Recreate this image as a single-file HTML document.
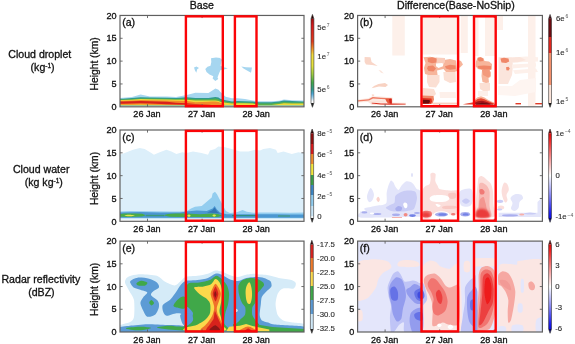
<!DOCTYPE html><html><head><meta charset="utf-8"><title>Figure</title><style>
html,body{margin:0;padding:0;background:#fff}svg{display:block}
text{font-family:"Liberation Sans", Arial, sans-serif;fill:#111;stroke:#111;stroke-width:0.3px}.t{font-size:9.1px}.l{font-size:10.6px}.c{font-size:7.8px;fill:#2a2a2a;stroke:#2a2a2a;stroke-width:0.12px}
</style></head><body>
<svg width="575" height="344" viewBox="0 0 575 344">
<rect width="575" height="344" fill="#fff"/>
<defs><filter id="b1" x="-20%" y="-20%" width="140%" height="140%"><feGaussianBlur stdDeviation="0.5"/></filter><filter id="b2" x="-20%" y="-20%" width="140%" height="140%"><feGaussianBlur stdDeviation="1.0"/></filter><filter id="b3" x="-30%" y="-30%" width="160%" height="160%"><feGaussianBlur stdDeviation="2"/></filter></defs>
<text x="201.8" y="8.7" text-anchor="middle" class="l">Base</text>
<text x="455.9" y="8.7" text-anchor="middle" class="l">Difference(Base-NoShip)</text>
<text x="39.8" y="58.4" text-anchor="middle" class="l">Cloud droplet</text>
<text x="42.6" y="71.4" text-anchor="middle" class="l">(kg<tspan dy="-3.4" font-size="6.5">-1</tspan><tspan dy="3.4">)</tspan></text>
<text x="41.2" y="172.6" text-anchor="middle" class="l">Cloud water</text>
<text x="43.8" y="185.9" text-anchor="middle" class="l">(kg kg<tspan dy="-3.4" font-size="6.5">-1</tspan><tspan dy="3.4">)</tspan></text>
<text x="40.9" y="282.6" text-anchor="middle" class="l">Radar reflectivity</text>
<text x="41.4" y="295.6" text-anchor="middle" class="l">(dBZ)</text>
<text transform="translate(97.8 63.9) rotate(-90)" text-anchor="middle" class="l" style="font-size:10.3px">Height (km)</text>
<text transform="translate(97.8 178.5) rotate(-90)" text-anchor="middle" class="l" style="font-size:10.3px">Height (km)</text>
<text transform="translate(97.8 289.4) rotate(-90)" text-anchor="middle" class="l" style="font-size:10.3px">Height (km)</text>
<clipPath id="cpa"><rect x="120.0" y="15.45" width="184.0" height="91.35"/></clipPath><g clip-path="url(#cpa)"><path d="M120.0 97.9L123.0 97.8L132.0 96.9L140.6 94.5L150.0 96.5L167.0 96.5L176.0 97.0L186.8 95.1L195.4 92.7L208.4 92.9L212.0 90.8L215.4 88.4L218.5 89.8L220.2 91.8L225.6 96.7L232.0 98.3L237.8 98.3L245.0 99.1L252.8 100.6L259.0 101.2L271.5 101.2L279.0 100.7L284.0 99.6L292.0 100.2L302.8 100.6L305.0 100.6L305.0 106.0L302.8 106.0L292.0 106.0L284.0 106.0L279.0 106.0L271.5 106.0L259.0 106.0L252.8 106.0L245.0 106.0L237.8 106.0L232.0 106.0L225.6 106.0L220.2 106.0L218.5 106.0L215.4 106.0L212.0 106.0L208.4 106.0L195.4 106.0L186.8 106.0L176.0 106.0L167.0 106.0L150.0 106.0L140.6 106.0L132.0 106.0L123.0 106.0L120.0 106.0Z" fill="#a6d6f0" /><path d="M120.0 98.7L123.0 98.7L132.0 98.1L140.6 97.3L150.0 97.5L167.0 97.7L176.0 98.1L186.8 97.3L195.4 97.9L208.4 97.9L212.0 97.5L215.4 97.1L218.5 97.6L220.2 98.7L225.6 100.3L232.0 101.4L237.8 101.0L245.0 101.3L252.8 101.6L259.0 102.2L271.5 102.2L279.0 101.5L284.0 100.4L292.0 101.0L302.8 101.4L305.0 101.4L305.0 105.3L302.8 105.3L292.0 105.3L284.0 105.3L279.0 105.3L271.5 105.3L259.0 105.3L252.8 105.3L245.0 105.3L237.8 105.3L232.0 105.3L225.6 105.3L220.2 105.3L218.5 105.3L215.4 105.3L212.0 105.3L208.4 105.3L195.4 105.3L186.8 105.3L176.0 105.3L167.0 105.3L150.0 105.3L140.6 105.3L132.0 105.3L123.0 105.3L120.0 105.3Z" fill="#2f9a8c" /><path d="M120.0 99.6L123.0 99.6L132.0 99.2L140.6 98.4L150.0 98.6L167.0 98.8L176.0 99.1L186.8 98.4L195.4 99.3L208.4 99.3L212.0 99.0L215.4 98.6L218.5 99.2L220.2 100.2L225.6 101.6L232.0 102.6L237.8 102.2L245.0 102.4L252.8 102.7L259.0 103.6L271.5 103.6L279.0 102.8L284.0 101.9L292.0 102.4L302.8 102.6L305.0 102.6L305.0 105.3L302.8 105.3L292.0 105.3L284.0 105.3L279.0 105.3L271.5 105.3L259.0 105.3L252.8 105.3L245.0 105.3L237.8 105.3L232.0 105.3L225.6 105.3L220.2 105.3L218.5 105.3L215.4 105.3L212.0 105.3L208.4 105.3L195.4 105.3L186.8 105.3L176.0 105.3L167.0 105.3L150.0 105.3L140.6 105.3L132.0 105.3L123.0 105.3L120.0 105.3Z" fill="#5bb04a" /><path d="M120.0 100.1L123.0 100.1L132.0 99.8L140.6 99.1L150.0 99.3L167.0 99.4L176.0 99.8L186.8 99.7L195.4 100.6L208.4 100.4L212.0 100.4L215.4 100.4L218.5 101.0L220.2 101.7L225.6 102.7L232.0 103.6L237.8 103.2L245.0 103.3L252.8 103.4L259.0 105.0L271.5 105.0L279.0 103.9L284.0 103.2L292.0 103.4L302.8 103.4L305.0 103.4L305.0 105.3L302.8 105.3L292.0 105.3L284.0 105.3L279.0 105.3L271.5 105.3L259.0 105.3L252.8 105.3L245.0 105.3L237.8 105.3L232.0 105.3L225.6 105.3L220.2 105.3L218.5 105.3L215.4 105.3L212.0 105.3L208.4 105.3L195.4 105.3L186.8 105.3L176.0 105.3L167.0 105.3L150.0 105.3L140.6 105.3L132.0 105.3L123.0 105.3L120.0 105.3Z" fill="#f1d93a" /><path d="M120.0 100.7L123.0 100.7L132.0 100.5L140.6 100.0L150.0 100.2L167.0 100.4L176.0 100.8L186.8 101.1L195.4 102.2L208.4 101.7L212.0 101.5L215.4 101.4L218.5 102.0L220.2 102.7L225.6 105.3L232.0 105.3L237.8 105.3L245.0 105.3L252.8 105.3L259.0 105.3L271.5 105.3L279.0 105.3L284.0 105.3L292.0 105.3L302.8 105.3L305.0 105.3L305.0 105.3L302.8 105.3L292.0 105.3L284.0 105.3L279.0 105.3L271.5 105.3L259.0 105.3L252.8 105.3L245.0 105.3L237.8 105.3L232.0 105.3L225.6 105.3L220.2 105.1L218.5 105.1L215.4 105.1L212.0 105.1L208.4 105.1L195.4 105.1L186.8 105.1L176.0 105.1L167.0 105.0L150.0 104.7L140.6 104.5L132.0 104.7L123.0 104.8L120.0 104.8Z" fill="#f28c28" /><path d="M120.0 101.4L123.0 101.4L132.0 101.3L140.6 101.1L150.0 101.3L167.0 101.7L176.0 102.7L186.8 103.3L195.4 104.1L208.4 104.8L212.0 104.9L215.4 104.9L218.5 104.9L220.2 104.9L225.6 105.3L232.0 105.3L237.8 105.3L245.0 105.3L252.8 105.3L259.0 105.3L271.5 105.3L279.0 105.3L284.0 105.3L292.0 105.3L302.8 105.3L305.0 105.3L305.0 105.3L302.8 105.3L292.0 105.3L284.0 105.3L279.0 105.3L271.5 105.3L259.0 105.3L252.8 105.3L245.0 105.3L237.8 105.3L232.0 105.3L225.6 105.3L220.2 104.9L218.5 104.9L215.4 104.9L212.0 104.9L208.4 104.9L195.4 104.8L186.8 104.8L176.0 104.4L167.0 104.2L150.0 103.6L140.6 103.3L132.0 103.6L123.0 103.8L120.0 103.8Z" fill="#d8201c" /><path d="M194.0 67.5L196.5 66.4L199.0 68.0L197.2 69.3L196.3 72.7L195.0 70.5Z" fill="#a6d6f0" /><path d="M211.0 58.2L216.0 57.6L220.3 58.0L221.0 59.5L223.0 59.0L221.5 61.0L220.6 65.7L223.5 67.2L227.8 68.2L224.0 69.5L220.5 70.0L219.0 73.5L217.5 77.5L218.3 79.0L215.3 80.9L212.6 78.6L213.3 76.3L209.5 74.5L206.5 72.0L205.3 69.0L207.5 66.7L210.5 65.8L211.3 62.0Z" fill="#a6d6f0" /><path d="M241.3 66.6L246.0 67.2L252.0 67.6L251.0 72.7L247.0 70.5L243.5 68.4Z" fill="#a6d6f0" /></g><rect x="120.0" y="15.45" width="184.0" height="91.35" fill="none" stroke="#606060" stroke-width="1.2"/><path d="M120.0 83.96h2.6M304.0 83.96h-2.6M120.0 61.12h2.6M304.0 61.12h-2.6M120.0 38.29h2.6M304.0 38.29h-2.6M147.50 106.8v-2.6M147.50 15.45v2.6M202.10 106.8v-2.6M202.10 15.45v2.6M256.70 106.8v-2.6M256.70 15.45v2.6" stroke="#606060" stroke-width="0.9" fill="none"/><text x="116.60" y="110.00" text-anchor="end" class="t">0</text><text x="116.60" y="87.16" text-anchor="end" class="t">5</text><text x="116.60" y="64.33" text-anchor="end" class="t">10</text><text x="116.60" y="41.49" text-anchor="end" class="t">15</text><text x="116.60" y="18.65" text-anchor="end" class="t">20</text><text x="147.00" y="117.40" text-anchor="middle" class="t">26 Jan</text><text x="201.60" y="117.40" text-anchor="middle" class="t">27 Jan</text><text x="256.20" y="117.40" text-anchor="middle" class="t">28 Jan</text><text x="122.20" y="26.35" class="l">(a)</text><rect x="185.9" y="16.35" width="36.9" height="89.85" fill="none" stroke="#fb0407" stroke-width="2.4"/><rect x="234.9" y="16.35" width="21.6" height="89.85" fill="none" stroke="#fb0407" stroke-width="2.4"/>
<clipPath id="cpb"><rect x="357.6" y="15.45" width="184.8" height="91.35"/></clipPath><g clip-path="url(#cpb)"><g filter="url(#b1)"><rect x="392.3" y="16.0" width="12.5" height="39.5" fill="#fdf0ea" /><rect x="421.0" y="16.0" width="37.0" height="38.5" fill="#fdf0ea" /><rect x="460.7" y="16.0" width="7.1" height="37.0" fill="#fdf0ea" /><rect x="474.0" y="16.0" width="4.5" height="40.0" fill="#fdf0ea" /><rect x="485.0" y="16.0" width="11.0" height="40.0" fill="#fdf0ea" /><rect x="497.0" y="16.0" width="6.0" height="14.0" fill="#fdf0ea" /><rect x="528.0" y="16.0" width="7.5" height="90.0" fill="#fdf0ea" /><path d="M364.6 57.0L370.5 57.2L371.6 62.0L377.7 65.9L372.0 65.0L366.0 64.5L364.6 62.0Z" fill="#f9d6c8" /><path d="M378.5 70.0L381.0 70.4L383.8 73.5L381.0 72.8Z" fill="#fbe6dd" /><path d="M378.5 84.0L385.0 83.0L388.0 85.0L385.5 87.0L379.0 86.6L371.6 88.2L374.0 86.0Z" fill="#f8d2c2" /><path d="M371.7 94.2L374.3 94.4L374.0 96.3L372.0 96.2Z" fill="#fbdcd0" /><path d="M358.0 99.4L368.0 98.2L372.5 96.2L381.0 96.6L392.5 97.4L393.0 102.6L406.0 102.8L406.0 105.2L372.0 105.0L368.0 102.0L358.0 102.6Z" fill="#fce9e1" /><path d="M358.0 100.3L368.6 99.2L372.7 97.1L381.0 97.7L391.5 98.3L391.5 99.6L381.0 99.1L373.0 98.6L369.0 100.4L358.0 101.4Z" fill="#ee7a62" /><path d="M385.3 98.9L391.5 98.6L391.8 103.8L388.0 103.6L386.5 101.5Z" fill="#e65a3a" /><path d="M389.0 99.0L391.7 98.8L391.8 103.8L389.8 103.6Z" fill="#d0201a" /><path d="M371.7 102.5L381.0 103.4L391.5 103.6L405.5 103.7L405.5 104.6L391.5 104.7L381.0 104.6L371.7 103.6Z" fill="#de3322" /><path d="M364.0 101.5L372.0 101.2L384.0 100.8L384.0 102.0L372.0 102.4Z" fill="#fbe3d9" /><path d="M423.5 57.2L430.0 56.7L437.6 58.0L438.0 63.0L436.0 66.0L443.0 66.0L444.0 60.0L450.0 59.0L456.0 60.5L457.0 71.0L452.0 73.3L446.0 72.0L443.5 69.0L437.0 70.5L437.6 75.2L430.0 75.5L425.0 74.0L424.0 68.0L425.5 63.0Z" fill="#f7b59b" /><path d="M436.0 57.6L445.0 58.0L445.0 62.5L442.0 64.0L436.0 63.8Z" fill="#f9cdbc" /><path d="M427.5 58.2L432.0 57.3L436.7 58.5L436.5 62.5L432.0 63.2L428.0 62.0Z" fill="#f08767" /><path d="M428.0 66.0L433.0 65.5L436.0 68.5L433.5 71.4L428.5 71.0L427.0 68.5Z" fill="#f08767" /><path d="M445.0 66.2L450.0 64.8L455.6 65.5L455.6 69.0L450.0 69.7L446.0 68.6Z" fill="#f08767" /><path d="M436.0 63.5L442.5 63.0L443.0 66.3L438.5 68.0L436.0 66.2Z" fill="#ffffff" /><path d="M427.0 75.0L439.5 75.0L439.5 82.0L436.0 87.5L429.0 87.0L427.0 82.0Z" fill="#fbdfd3" /><path d="M443.3 72.0L455.6 72.0L456.0 82.0L450.0 83.0L444.0 80.0Z" fill="#fbdfd3" /><path d="M439.5 92.0L455.6 92.0L456.0 98.0L440.0 98.0Z" fill="#fdf0ea" /><path d="M423.0 88.0L434.0 89.0L436.0 94.0L433.0 97.0L423.0 97.0Z" fill="#fbdfd3" /><path d="M422.3 95.5L433.5 96.0L434.0 99.5L432.5 103.8L422.3 104.0Z" fill="#f08767" /><path d="M422.3 98.0L431.5 98.4L432.0 101.5L431.0 103.8L422.3 104.0Z" fill="#e0301e" /><path d="M423.0 99.7L429.5 99.9L430.0 102.0L428.5 103.6L423.0 103.6Z" fill="#6b0a10" /><path d="M433.0 102.6L457.0 102.6L457.0 104.5L433.0 104.5Z" fill="#f9cfc0" /><path d="M458.0 60.0L461.0 61.0L463.0 64.5L460.0 67.5L458.0 68.0Z" fill="#f7b59b" /><path d="M477.7 57.5L480.5 57.0L483.5 58.3L484.5 61.0L489.0 61.5L492.0 64.0L491.8 69.5L489.5 70.0L491.0 72.5L490.5 77.0L488.5 78.0L489.0 82.5L486.0 83.0L482.5 82.0L481.5 76.0L482.0 70.0L478.0 69.0L475.7 66.5L476.0 61.5Z" fill="#f7b59b" /><path d="M477.8 58.0L480.5 57.3L483.2 58.5L483.4 61.0L479.5 61.4L477.7 60.0Z" fill="#f08767" /><path d="M477.5 66.0L484.0 65.4L491.0 66.0L491.0 69.4L484.0 69.8L478.5 68.6Z" fill="#f08767" /><path d="M482.0 70.0L489.5 70.0L490.5 76.0L488.0 77.5L483.0 75.0Z" fill="#f39a7c" /><path d="M479.5 83.0L490.0 83.0L490.0 90.5L484.0 91.5L480.0 89.0Z" fill="#fbdfd3" /><path d="M478.0 91.0L488.0 91.0L488.0 96.0L478.0 96.0Z" fill="#fdf0ea" /><path d="M474.0 100.0L477.6 97.2L481.0 96.3L484.5 97.6L488.0 99.8L491.5 101.5L494.2 102.4L495.5 104.6L474.0 104.6Z" fill="#f7b59b" /><path d="M474.0 101.6L477.6 99.0L481.0 98.2L484.5 99.2L488.0 101.0L491.5 102.6L494.0 103.4L494.5 104.6L474.0 104.6Z" fill="#e6452f" /><path d="M474.0 103.0L478.0 101.2L482.0 100.8L486.0 101.8L490.0 103.2L493.0 104.0L493.0 104.6L474.0 104.6Z" fill="#a51219" /><path d="M476.0 104.0L482.0 102.8L488.0 103.6L491.0 104.6L476.0 104.6Z" fill="#6b0a10" /><path d="M462.8 104.2L468.0 103.2L472.4 102.6L475.0 101.5L475.0 104.4L466.0 104.6Z" fill="#e6452f" /><path d="M498.5 57.3L512.0 57.3L513.0 66.0L512.0 75.0L508.0 84.0L498.5 84.0Z" fill="#fbe5dc" /><path d="M512.0 57.6L526.0 56.6L538.0 57.2L538.0 61.6L512.0 62.6Z" fill="#fdf0ea" /><path d="M512.0 64.6L536.0 63.3L536.0 66.6L512.0 68.4Z" fill="#fdf0ea" /><path d="M513.0 70.2L536.0 68.5L538.0 72.0L515.0 74.0Z" fill="#fdf0ea" /><path d="M512.0 57.6L520.0 57.0L526.0 60.0L518.0 62.2L512.0 62.6Z" fill="#fbe5dc" /><path d="M500.4 58.6L504.0 57.8L508.5 58.4L509.2 61.5L506.0 63.0L501.5 62.6Z" fill="#f08767" /><path d="M506.0 67.2L508.5 66.7L509.8 68.6L508.6 70.5L506.4 70.2Z" fill="#f08767" /><path d="M498.0 86.0L512.0 86.0L520.0 80.0L536.0 78.0L536.0 92.0L515.0 96.0L498.0 95.0Z" fill="#fef5f1" /><path d="M515.5 103.0L521.0 103.0L521.0 104.4L515.5 104.4Z" fill="#e03a28" /><path d="M535.3 103.0L542.0 103.0L542.0 104.4L535.3 104.4Z" fill="#e03a28" /></g></g><rect x="357.6" y="15.45" width="184.8" height="91.35" fill="none" stroke="#606060" stroke-width="1.2"/><path d="M357.6 83.96h2.6M542.4000000000001 83.96h-2.6M357.6 61.12h2.6M542.4000000000001 61.12h-2.6M357.6 38.29h2.6M542.4000000000001 38.29h-2.6M385.10 106.8v-2.6M385.10 15.45v2.6M439.70 106.8v-2.6M439.70 15.45v2.6M494.30 106.8v-2.6M494.30 15.45v2.6" stroke="#606060" stroke-width="0.9" fill="none"/><text x="354.20" y="110.00" text-anchor="end" class="t">0</text><text x="354.20" y="87.16" text-anchor="end" class="t">5</text><text x="354.20" y="64.33" text-anchor="end" class="t">10</text><text x="354.20" y="41.49" text-anchor="end" class="t">15</text><text x="354.20" y="18.65" text-anchor="end" class="t">20</text><text x="384.60" y="117.40" text-anchor="middle" class="t">26 Jan</text><text x="439.20" y="117.40" text-anchor="middle" class="t">27 Jan</text><text x="493.80" y="117.40" text-anchor="middle" class="t">28 Jan</text><text x="359.80" y="26.35" class="l">(b)</text><rect x="421.5" y="16.35" width="36.6" height="89.85" fill="none" stroke="#fb0407" stroke-width="2.4"/><rect x="474.0" y="16.35" width="21.7" height="89.85" fill="none" stroke="#fb0407" stroke-width="2.4"/>
<clipPath id="cpc"><rect x="120.0" y="130.0" width="184.0" height="91.30000000000001"/></clipPath><g clip-path="url(#cpc)"><g filter="url(#b1)"><path d="M119.0 154.9L119.7 154.7L124.7 153.0L133.0 149.7L139.7 148.0L144.7 148.9L151.4 153.0L153.9 154.7L159.7 152.2L166.4 149.7L171.4 151.4L176.4 153.9L182.3 152.2L186.4 153.0L193.0 151.4L201.5 153.0L208.0 154.7L210.0 150.5L215.0 148.9L218.3 146.4L225.0 147.2L231.7 148.9L240.0 151.4L248.4 151.4L255.0 149.7L260.0 150.5L263.4 148.9L270.0 148.0L276.0 149.7L277.6 153.0L283.5 151.4L291.8 153.9L298.5 152.2L302.7 153.0L305.0 153.0L305.0 219.6L119.0 219.6Z" fill="#dceffa" /><path d="M119.0 211.4L130.0 210.9L150.0 211.3L170.0 211.4L180.0 211.6L186.7 211.2L191.0 208.5L195.0 206.7L201.7 205.9L206.7 201.7L211.7 197.5L212.6 193.4L215.0 191.7L217.0 194.2L219.2 198.4L222.6 205.0L225.9 210.9L230.0 213.0L236.8 212.2L242.6 210.0L246.8 211.7L253.5 212.8L260.0 212.4L276.0 212.4L290.0 212.8L305.0 212.4L305.0 218.2L119.0 218.2Z" fill="#93cdef" /><path d="M119.0 212.4L140.0 212.0L160.0 212.6L180.0 212.6L186.7 211.4L196.7 210.4L206.7 210.9L212.6 208.4L214.7 205.9L216.7 209.2L220.0 212.6L226.7 214.2L235.0 214.2L260.0 214.3L276.0 214.2L290.0 214.6L305.0 214.5L305.0 217.8L119.0 217.8Z" fill="#4b97d1" /><path d="M207.0 212.6L212.0 210.5L214.7 207.6L217.0 211.5L220.0 213.5Z" fill="#3274b5" /><path d="M119.0 214.3L124.0 213.6L135.0 213.4L142.0 213.8L146.0 215.2L142.0 216.6L130.0 216.9L119.0 216.8Z" fill="#4bab47" /><path d="M146.0 214.8L164.0 214.8L164.0 216.2L146.0 216.2Z" fill="#3d9a78" /><path d="M163.0 215.3L168.0 214.0L175.0 213.6L186.0 213.6L200.0 214.2L212.0 213.4L218.0 214.0L222.0 215.6L218.0 216.9L200.0 217.0L186.0 217.0L170.0 216.8Z" fill="#4bab47" /><path d="M232.0 215.0L256.0 215.0L256.0 216.2L232.0 216.2Z" fill="#2f8f80" /><path d="M278.0 215.6L290.0 215.4L290.0 216.4L278.0 216.6Z" fill="#3f9a70" /><path d="M124.5 215.4C124.5 215.2 127.3 214.7 129.0 214.7C130.7 214.7 134.7 215.2 134.7 215.4C134.7 215.7 130.7 216.2 129.0 216.2C127.3 216.2 124.5 215.7 124.5 215.4Z" fill="#e2e352" /><path d="M187.3 215.7C187.3 215.3 188.4 214.6 189.0 214.6C189.6 214.6 190.6 215.3 190.6 215.7C190.6 216.1 189.6 216.9 189.0 216.9C188.4 216.9 187.3 216.1 187.3 215.7Z" fill="#e2e352" /><path d="M212.4 215.6C212.4 215.2 213.6 214.6 214.2 214.6C214.8 214.6 216.0 215.2 216.0 215.6C216.0 215.9 214.8 216.7 214.2 216.7C213.6 216.7 212.4 215.9 212.4 215.6Z" fill="#e2e352" /></g></g><rect x="120.0" y="130.0" width="184.0" height="91.30" fill="none" stroke="#606060" stroke-width="1.2"/><path d="M120.0 198.48h2.6M304.0 198.48h-2.6M120.0 175.65h2.6M304.0 175.65h-2.6M120.0 152.82h2.6M304.0 152.82h-2.6M147.50 221.3v-2.6M147.50 130.0v2.6M202.10 221.3v-2.6M202.10 130.0v2.6M256.70 221.3v-2.6M256.70 130.0v2.6" stroke="#606060" stroke-width="0.9" fill="none"/><text x="116.60" y="224.50" text-anchor="end" class="t">0</text><text x="116.60" y="201.68" text-anchor="end" class="t">5</text><text x="116.60" y="178.85" text-anchor="end" class="t">10</text><text x="116.60" y="156.02" text-anchor="end" class="t">15</text><text x="116.60" y="133.20" text-anchor="end" class="t">20</text><text x="147.00" y="231.90" text-anchor="middle" class="t">26 Jan</text><text x="201.60" y="231.90" text-anchor="middle" class="t">27 Jan</text><text x="256.20" y="231.90" text-anchor="middle" class="t">28 Jan</text><text x="122.20" y="140.90" class="l">(c)</text><rect x="185.9" y="130.90" width="36.9" height="89.80" fill="none" stroke="#fb0407" stroke-width="2.4"/><rect x="234.9" y="130.90" width="21.6" height="89.80" fill="none" stroke="#fb0407" stroke-width="2.4"/>
<clipPath id="cpd"><rect x="357.6" y="130.0" width="184.8" height="91.30000000000001"/></clipPath><g clip-path="url(#cpd)"><g filter="url(#b1)"><path d="M370.5 188.0C371.6 187.6 373.6 192.0 373.9 194.0C374.2 196.0 373.3 198.7 372.5 200.0C371.7 201.3 369.9 202.6 369.0 202.0C368.1 201.4 366.8 198.8 367.0 196.5C367.2 194.2 369.4 188.4 370.5 188.0Z" fill="#e3e5fa" /><path d="M378.2 196.7C378.8 196.7 379.9 198.6 379.9 199.5C379.9 200.4 379.0 202.0 378.4 202.0C377.8 202.0 376.4 200.2 376.4 199.3C376.4 198.4 377.6 196.7 378.2 196.7Z" fill="#f9d3ce" /><path d="M364.4 208.4C365.6 207.7 372.1 206.7 375.0 206.0C377.9 205.3 384.4 205.3 386.0 203.5C387.6 201.7 386.3 195.0 386.7 192.4C387.1 189.8 388.4 185.6 389.0 184.0C389.6 182.4 390.4 180.6 391.0 180.4C391.6 180.2 392.9 181.7 393.5 182.5C394.1 183.3 394.6 185.5 395.3 186.5C396.0 187.5 397.6 190.2 398.5 190.0C399.4 189.8 400.9 186.2 402.0 185.0C403.1 183.8 405.3 181.7 406.4 181.3C407.5 180.9 409.1 181.5 410.0 181.8C410.9 182.1 412.4 182.9 413.3 183.9C414.2 184.9 415.8 188.1 416.7 189.0C417.6 189.9 419.4 189.2 420.0 190.7C420.6 192.2 420.9 196.9 421.0 200.0C421.1 203.1 422.6 211.8 420.5 214.0C418.4 216.2 409.7 216.0 405.0 216.5C400.3 217.0 391.0 217.5 385.0 217.6C379.0 217.7 363.5 217.9 360.0 217.4C356.5 216.9 358.2 214.3 359.0 213.5C359.8 212.7 365.3 212.2 366.0 211.5C366.7 210.8 363.2 209.1 364.4 208.4Z" fill="#e3e5fa" /><path d="M395.3 196.0C396.0 194.6 398.7 193.2 400.0 192.5C401.3 191.8 403.5 191.1 405.0 190.8C406.5 190.5 409.6 190.4 411.0 190.6C412.4 190.8 414.7 191.0 415.5 192.0C416.3 193.0 417.0 196.3 417.0 198.0C417.0 199.7 416.0 203.5 415.5 205.0C415.0 206.5 414.5 208.8 413.3 209.6C412.1 210.4 408.4 210.8 406.4 211.3C404.4 211.8 399.9 213.0 398.0 213.0C396.1 213.0 393.5 212.0 391.9 211.3C390.3 210.6 386.2 208.7 385.9 207.9C385.6 207.1 388.9 205.7 390.0 205.0C391.1 204.3 393.8 203.9 394.5 202.7C395.2 201.5 394.6 197.4 395.3 196.0Z" fill="#c9ccf5" /><path d="M403.2 204.2C403.3 203.3 404.5 202.6 405.2 202.6C405.9 202.6 407.0 203.4 407.3 204.2C407.6 205.0 407.4 206.8 407.0 207.4C406.6 208.0 405.4 208.5 404.8 208.0C404.2 207.5 403.1 205.1 403.2 204.2Z" fill="#fff" /><path d="M395.3 208.6C395.6 207.7 397.5 206.2 398.6 206.0C399.7 205.8 401.6 206.8 402.0 207.6C402.4 208.4 401.8 210.2 401.0 210.8C400.2 211.4 397.9 211.8 397.0 211.4C396.1 211.0 395.0 209.5 395.3 208.6Z" fill="#a9aeee" /><path d="M360.0 211.6L421.0 211.6L421.0 216.8L360.0 216.8Z" fill="#e3e5fa" /><ellipse cx="364.4" cy="212.4" rx="3.0" ry="1.1" fill="#a9aeee" /><ellipse cx="377.3" cy="214.0" rx="4.0" ry="1.1" fill="#a9aeee" /><ellipse cx="396.0" cy="214.8" rx="4.0" ry="1.2" fill="#a9aeee" /><ellipse cx="412.5" cy="215.6" rx="3.3" ry="1.3" fill="#7382e6" /><ellipse cx="417.0" cy="213.0" rx="3.0" ry="1.0" fill="#a9aeee" /><ellipse cx="405.6" cy="214.7" rx="2.0" ry="1.8" fill="#f28b84" /><ellipse cx="372.0" cy="213.3" rx="2.2" ry="0.9" fill="#fff" /><path d="M391.9 217.2L402.0 217.2L402.0 218.0L391.9 218.0Z" fill="#f3a09a" /><ellipse cx="412.0" cy="175.0" rx="1.0" ry="2.0" fill="#dfe1f8" /><path d="M430.4 174.0C430.6 173.3 431.9 172.7 432.5 172.7C433.1 172.7 435.3 173.0 435.6 174.0C435.9 175.0 435.1 179.6 435.3 181.0C435.5 182.4 437.0 184.7 437.5 185.6C438.0 186.5 438.0 188.4 439.5 189.0C441.0 189.6 448.0 190.4 450.0 190.6C452.0 190.8 456.0 190.1 457.0 190.4C458.0 190.7 458.3 190.3 458.5 193.0C458.7 195.7 460.7 211.1 458.5 213.5C456.3 215.9 444.3 214.1 440.0 214.0C435.7 213.9 424.1 215.6 422.0 213.0C419.9 210.4 421.6 195.1 422.0 192.0C422.4 188.9 424.1 187.4 425.0 186.5C425.9 185.6 428.9 184.9 429.6 184.0C430.3 183.1 430.5 180.2 430.6 179.0C430.7 177.8 430.2 174.7 430.4 174.0Z" fill="#fbdedb" /><path d="M429.6 198.4C429.8 197.5 431.3 196.2 433.0 195.6C434.7 195.0 437.7 194.9 440.0 195.0C442.3 195.1 445.4 195.4 447.0 196.0C448.6 196.6 449.5 197.9 449.3 198.8C449.1 199.7 447.9 200.9 446.0 201.4C444.1 201.9 440.3 201.9 438.0 201.9C435.7 201.9 433.4 201.8 432.0 201.2C430.6 200.6 429.4 199.3 429.6 198.4Z" fill="#fff" /><path d="M435.6 204.6C435.6 204.1 437.1 204.0 438.0 204.2C438.9 204.4 440.7 205.1 440.7 205.6C440.7 206.1 438.9 207.2 438.0 207.0C437.1 206.8 435.6 205.1 435.6 204.6Z" fill="#fff" /><path d="M448.5 193.5C449.4 192.6 454.3 192.4 455.5 193.2C456.7 193.9 456.4 197.1 455.5 198.0C454.6 198.9 451.2 199.2 450.0 198.5C448.8 197.8 447.6 194.4 448.5 193.5Z" fill="#f8c8c3" /><path d="M443.5 206.2C445.5 205.7 453.3 205.6 455.3 206.0C457.3 206.4 457.3 208.1 455.3 208.6C453.3 209.1 445.5 209.2 443.5 208.8C441.5 208.4 441.5 206.7 443.5 206.2Z" fill="#f8c8c3" /><path d="M423.0 211.6C423.8 210.6 426.1 210.7 427.5 210.8C428.9 210.9 430.9 211.3 431.5 212.2C432.1 213.1 432.4 215.6 431.0 216.4C429.6 217.2 424.3 217.6 423.0 216.8C421.7 216.0 422.2 212.6 423.0 211.6Z" fill="#f07a76" /><path d="M423.0 213.0C423.7 212.2 425.9 212.2 427.0 212.4C428.1 212.6 429.4 213.2 429.8 214.0C430.2 214.8 430.4 216.5 429.3 217.0C428.2 217.5 424.1 217.9 423.0 217.2C421.9 216.5 422.3 213.8 423.0 213.0Z" fill="#ea3a3a" filter="url(#b2)"/><ellipse cx="441.5" cy="214.4" rx="8.0" ry="3.1" fill="#fff" /><ellipse cx="441.5" cy="214.4" rx="6.6" ry="2.1" fill="#a9aeee" /><ellipse cx="442.5" cy="214.5" rx="4.2" ry="1.3" fill="#7382e6" /><ellipse cx="453.2" cy="214.3" rx="2.2" ry="1.3" fill="#f07a76" /><path d="M459.6 192.0C460.5 190.2 463.0 189.4 465.0 189.0C467.0 188.6 470.4 187.7 471.6 189.5C472.9 191.3 472.8 197.2 472.5 200.0C472.2 202.8 471.8 205.1 470.0 206.1C468.2 207.1 463.8 207.0 462.0 206.0C460.2 205.0 459.9 202.3 459.5 200.0C459.1 197.7 458.7 193.8 459.6 192.0Z" fill="#e3e5fa" /><path d="M462.0 201.0C462.0 200.1 464.7 198.4 466.0 198.4C467.3 198.4 469.9 200.1 469.9 201.0C469.9 201.9 467.3 203.8 466.0 203.8C464.7 203.8 462.0 201.9 462.0 201.0Z" fill="#c9ccf5" /><ellipse cx="465.2" cy="214.2" rx="4.8" ry="2.2" fill="#a9aeee" /><ellipse cx="465.6" cy="214.4" rx="3.0" ry="1.2" fill="#7382e6" /><path d="M478.4 178.0C478.9 176.7 480.3 176.1 481.0 176.0C481.7 175.9 483.2 176.7 484.0 177.2C484.8 177.7 486.1 179.1 487.0 180.0C487.9 180.9 490.2 182.4 491.0 184.0C491.8 185.6 492.7 189.2 493.0 192.0C493.3 194.8 493.3 201.7 493.5 205.0C493.7 208.3 497.2 215.1 494.6 216.6C492.0 218.1 476.8 218.0 474.3 216.6C471.8 215.2 475.2 208.7 475.5 206.0C475.8 203.3 476.0 198.7 476.3 196.0C476.6 193.3 477.2 188.4 477.5 186.0C477.8 183.6 477.9 179.3 478.4 178.0Z" fill="#fbdedb" /><path d="M479.3 184.0C479.8 182.4 482.0 182.7 483.0 183.0C484.0 183.3 486.1 184.8 487.0 186.0C487.9 187.2 489.3 189.3 489.6 192.0C489.9 194.7 489.3 202.7 489.5 206.0C489.7 209.3 492.8 215.2 491.0 216.6C489.2 218.0 478.0 218.0 476.3 216.6C474.6 215.2 477.8 208.9 478.2 206.0C478.6 203.1 478.9 197.9 479.0 195.0C479.1 192.1 478.8 185.6 479.3 184.0Z" fill="#f7bab5" /><path d="M479.5 190.0C479.8 189.1 481.2 188.8 482.0 189.0C482.8 189.2 484.2 190.6 484.5 191.5C484.8 192.4 484.3 193.8 483.6 194.2C482.9 194.6 481.1 194.9 480.4 194.2C479.7 193.5 479.2 190.9 479.5 190.0Z" fill="#f07a76" /><path d="M479.6 200.0C480.2 198.4 482.7 196.6 483.5 197.0C484.3 197.4 485.0 201.3 485.5 203.0C486.0 204.7 486.5 208.2 487.0 210.0C487.5 211.8 490.3 215.7 489.0 216.6C487.7 217.5 478.3 217.6 477.0 216.6C475.7 215.6 478.7 211.2 479.0 209.0C479.3 206.8 479.0 201.6 479.6 200.0Z" fill="#f39690" /><path d="M476.5 211.0C477.3 209.5 479.8 208.9 481.5 208.8C483.2 208.7 485.7 209.6 487.0 210.5C488.3 211.4 489.2 212.8 489.5 214.0C489.8 215.2 490.7 217.0 488.5 217.6C486.3 218.2 478.5 218.7 476.5 217.6C474.5 216.5 475.7 212.5 476.5 211.0Z" fill="#ea3a3a" filter="url(#b2)"/><path d="M504.5 182.5C505.3 182.2 506.8 183.2 507.5 184.5C508.2 185.8 509.0 188.2 508.8 190.0C508.6 191.8 506.7 193.3 506.5 195.0C506.3 196.7 507.7 198.7 507.5 200.0C507.3 201.3 506.2 202.8 505.5 202.6C504.8 202.4 503.8 200.8 503.2 199.0C502.6 197.2 501.7 194.2 501.6 192.0C501.5 189.8 502.1 187.6 502.6 186.0C503.1 184.4 503.7 182.8 504.5 182.5Z" fill="#fbdedb" /><path d="M510.5 198.0C510.9 196.5 513.2 194.8 515.0 194.2C516.8 193.6 519.7 193.9 521.0 194.6C522.3 195.3 523.2 197.3 523.0 198.5C522.8 199.7 520.2 200.4 519.5 202.0C518.8 203.6 519.3 206.5 518.5 208.0C517.7 209.5 515.8 210.9 514.5 211.0C513.2 211.1 511.3 209.8 511.0 208.5C510.7 207.2 512.6 204.8 512.5 203.0C512.4 201.2 510.1 199.5 510.5 198.0Z" fill="#e3e5fa" /><path d="M498.7 212.8L541.0 212.8L541.0 217.0L498.7 217.0Z" fill="#e3e5fa" /><ellipse cx="510.0" cy="215.4" rx="8.0" ry="1.1" fill="#a9aeee" /><ellipse cx="530.0" cy="213.6" rx="6.0" ry="1.0" fill="#c9ccf5" /><ellipse cx="521.8" cy="214.4" rx="2.6" ry="1.0" fill="#f6b0aa" /><ellipse cx="501.0" cy="207.6" rx="3.2" ry="2.0" fill="#fbdedb" /><ellipse cx="500.0" cy="201.3" rx="3.3" ry="1.6" fill="#c9ccf5" /><ellipse cx="499.6" cy="209.6" rx="2.6" ry="1.0" fill="#c9ccf5" /><path d="M537.5 202.0L541.5 198.0L541.5 214.0L537.5 214.0Z" fill="#e3e5fa" /></g></g><rect x="357.6" y="130.0" width="184.8" height="91.30" fill="none" stroke="#606060" stroke-width="1.2"/><path d="M357.6 198.48h2.6M542.4000000000001 198.48h-2.6M357.6 175.65h2.6M542.4000000000001 175.65h-2.6M357.6 152.82h2.6M542.4000000000001 152.82h-2.6M385.10 221.3v-2.6M385.10 130.0v2.6M439.70 221.3v-2.6M439.70 130.0v2.6M494.30 221.3v-2.6M494.30 130.0v2.6" stroke="#606060" stroke-width="0.9" fill="none"/><text x="354.20" y="224.50" text-anchor="end" class="t">0</text><text x="354.20" y="201.68" text-anchor="end" class="t">5</text><text x="354.20" y="178.85" text-anchor="end" class="t">10</text><text x="354.20" y="156.02" text-anchor="end" class="t">15</text><text x="354.20" y="133.20" text-anchor="end" class="t">20</text><text x="384.60" y="231.90" text-anchor="middle" class="t">26 Jan</text><text x="439.20" y="231.90" text-anchor="middle" class="t">27 Jan</text><text x="493.80" y="231.90" text-anchor="middle" class="t">28 Jan</text><text x="359.80" y="140.90" class="l">(d)</text><rect x="421.5" y="130.90" width="36.6" height="89.80" fill="none" stroke="#fb0407" stroke-width="2.4"/><rect x="474.0" y="130.90" width="21.7" height="89.80" fill="none" stroke="#fb0407" stroke-width="2.4"/>
<clipPath id="cpe"><rect x="120.0" y="241.1" width="184.0" height="90.9"/></clipPath><g clip-path="url(#cpe)"><g filter="url(#b1)"><path d="M119.0 325.8C120.5 324.5 128.1 323.3 130.1 322.1C132.1 321.0 133.4 320.0 134.0 317.1C134.5 314.1 134.6 303.6 134.0 300.1C133.3 296.6 130.3 293.1 129.1 290.8C127.9 288.4 125.3 284.3 125.0 282.6C124.7 280.9 125.9 278.7 126.8 277.7C127.6 276.8 129.7 275.9 131.6 275.4C133.6 274.9 138.0 274.2 141.4 274.2C144.7 274.3 153.8 274.8 156.9 275.8C160.1 276.8 162.4 280.3 164.7 281.6C167.1 282.9 172.4 285.5 174.5 285.5C176.6 285.5 178.8 282.8 180.3 281.6C181.8 280.5 183.3 277.6 185.6 276.9C187.8 276.1 194.3 276.2 197.2 275.8C200.2 275.4 205.5 274.4 207.9 273.7C210.3 273.0 213.5 270.8 215.3 270.5C217.1 270.2 219.8 271.0 221.7 271.6C223.5 272.1 227.0 274.0 229.1 274.7C231.2 275.5 235.3 276.9 237.6 276.9C239.9 276.9 243.8 275.2 246.1 274.7C248.4 274.3 253.1 273.7 254.6 273.7C256.1 273.6 255.3 274.1 257.2 274.3C259.0 274.5 265.3 274.7 268.2 275.2C271.1 275.6 275.7 277.3 278.8 277.9C281.9 278.6 289.3 279.3 291.5 280.0C293.8 280.7 295.5 282.1 295.8 283.2C296.1 284.4 295.4 287.8 293.7 288.5C292.0 289.2 285.2 287.8 283.1 288.5C280.9 289.2 278.7 291.7 277.7 293.8C276.8 296.0 275.6 301.6 275.6 304.4C275.6 307.3 276.8 312.9 277.7 315.1C278.7 317.2 280.9 319.4 283.1 320.4C285.2 321.3 290.8 322.0 293.7 322.5C296.5 323.0 302.9 322.9 304.3 324.2C305.7 325.4 329.0 331.0 304.3 332.0C279.6 333.1 143.7 332.8 119.0 332.0C94.3 331.2 117.5 327.2 119.0 325.8Z" fill="#d5ebf8" /><path d="M130.7 280.7C131.7 279.8 134.7 278.0 137.5 277.7C140.2 277.4 146.2 278.0 149.2 278.7C152.1 279.4 155.5 281.3 156.9 282.6C158.4 283.9 159.5 286.2 158.9 287.5C158.3 288.8 154.2 290.2 153.1 291.4C151.9 292.5 150.4 293.8 151.1 295.3C151.8 296.7 156.8 299.4 157.9 301.1C159.1 302.9 159.3 304.9 158.9 306.9C158.5 309.0 156.8 313.3 155.0 314.7C153.2 316.2 149.0 317.3 147.2 316.7C145.5 316.1 144.3 312.9 143.3 310.8C142.3 308.8 140.4 305.1 140.4 303.1C140.4 301.0 142.3 298.8 143.3 297.2C144.3 295.6 147.8 293.5 147.2 292.3C146.6 291.2 141.5 290.2 139.4 289.4C137.4 288.7 134.9 288.4 133.6 287.5C132.3 286.6 131.1 284.6 130.7 283.6C130.2 282.6 129.6 281.5 130.7 280.7Z" fill="#5b9bd5" /><path d="M118.0 327.6C119.1 326.9 126.8 326.2 129.7 325.8C132.6 325.5 143.5 324.4 147.2 324.3C150.9 324.2 163.0 324.9 166.7 325.1C170.4 325.2 182.3 325.2 184.2 326.0C186.1 326.8 192.5 332.3 186.0 333.0C179.5 333.7 125.8 333.5 119.0 333.0C112.2 332.5 116.9 328.3 118.0 327.6Z" fill="#5b9bd5" /><path d="M163.2 311.8C162.7 310.4 161.8 306.7 162.8 305.0C163.8 303.3 168.8 301.0 170.6 299.2C172.4 297.3 175.1 293.2 176.4 291.4C177.7 289.6 179.1 286.9 180.3 285.5C181.5 284.2 183.3 281.8 185.6 281.1C187.8 280.4 194.3 280.5 197.2 280.1C200.2 279.6 205.5 278.8 207.9 277.9C210.3 277.1 213.5 274.1 215.3 273.7C217.1 273.3 219.8 274.0 221.7 274.7C223.5 275.5 227.0 278.1 229.1 279.0C231.2 279.8 235.3 281.3 237.6 281.1C239.9 281.0 243.8 278.5 246.1 277.9C248.4 277.4 253.1 277.0 254.6 276.9C256.1 276.7 255.9 276.7 257.2 276.9C258.4 277.0 262.2 277.3 264.0 277.9C265.7 278.5 269.3 280.0 270.3 281.1C271.3 282.2 271.9 285.0 271.4 286.4C270.8 287.8 267.3 290.3 266.1 291.7C264.8 293.1 262.5 295.3 261.8 297.0C261.1 298.7 261.1 302.0 260.8 304.4C260.5 306.8 259.6 312.9 259.7 315.1C259.8 317.2 260.7 319.4 261.8 320.4C263.0 321.3 266.5 321.9 268.2 322.5C269.9 323.0 269.8 324.0 274.6 324.6C279.4 325.2 300.3 325.7 304.3 326.7C308.2 327.7 320.0 331.3 304.3 332.0C288.5 332.7 202.0 332.7 186.0 332.0C170.0 331.3 184.7 328.7 184.2 326.4C183.7 324.1 183.3 316.5 182.3 314.7C181.2 313.0 178.5 313.1 176.4 313.2C174.3 313.3 168.5 315.9 166.7 315.7C164.9 315.5 163.7 313.2 163.2 311.8Z" fill="#5b9bd5" /><path d="M136.5 283.2C137.0 282.4 139.6 280.8 141.4 280.7C143.2 280.6 146.6 281.8 147.2 282.6C147.9 283.4 146.7 285.0 145.3 285.5C143.8 286.0 139.9 285.9 138.4 285.5C137.0 285.1 136.0 284.0 136.5 283.2Z" fill="#3fa84a" /><path d="M149.2 302.7C149.2 301.8 150.7 300.1 151.5 300.1C152.3 300.2 154.0 302.2 154.0 303.1C154.0 303.9 152.3 305.5 151.5 305.4C150.7 305.3 149.2 303.5 149.2 302.7Z" fill="#3fa84a" /><path d="M173.5 306.0C173.2 305.1 175.5 302.3 176.4 301.1C177.4 299.9 179.5 297.7 180.7 297.2C181.9 296.7 184.6 295.8 185.2 297.2C185.8 298.6 186.0 306.5 185.2 307.9C184.3 309.4 180.3 308.2 178.8 307.9C177.2 307.7 173.8 306.9 173.5 306.0Z" fill="#3fa84a" /><path d="M125.8 328.4C125.8 327.8 135.2 326.9 139.4 326.8C143.6 326.7 151.1 327.4 151.1 328.0C151.1 328.6 143.6 330.3 139.4 330.3C135.2 330.4 125.8 329.0 125.8 328.4Z" fill="#3fa84a" /><path d="M156.9 327.6C156.9 327.0 165.4 326.0 168.6 325.8C171.9 325.6 173.7 326.2 176.4 326.4C179.2 326.6 183.7 326.4 185.2 327.0C186.6 327.7 187.9 329.9 185.2 330.3C182.4 330.7 173.3 330.0 168.6 329.5C163.9 329.1 156.9 328.2 156.9 327.6Z" fill="#3fa84a" /><path d="M185.6 289.2C186.0 286.2 186.9 284.1 188.7 283.2C190.6 282.4 196.5 283.0 199.4 282.6C202.2 282.2 207.7 281.0 210.0 280.1C212.3 279.1 214.8 275.9 216.4 275.8C217.9 275.7 220.3 277.7 221.7 279.0C223.1 280.3 226.0 283.4 227.0 285.4C228.0 287.3 229.0 291.3 229.1 293.9C229.2 296.4 228.5 301.9 228.0 304.5C227.5 307.0 225.8 310.4 225.3 313.0C224.8 315.5 224.2 321.3 224.4 323.6C224.7 325.9 232.2 329.5 227.0 330.4C221.8 331.3 191.1 331.3 185.6 330.4C180.0 329.5 184.9 325.1 185.6 323.6C186.3 322.1 189.9 320.8 190.9 319.3C191.9 317.9 193.3 314.5 193.0 313.0C192.7 311.4 189.7 308.7 188.7 307.7C187.8 306.7 186.0 308.0 185.6 305.5C185.1 303.1 185.1 292.2 185.6 289.2Z" fill="#3fa84a" /><path d="M180.2 315.1C180.7 313.7 184.0 313.0 185.6 313.0C187.1 313.0 190.9 314.1 191.9 315.1C192.9 316.1 193.4 319.1 193.0 320.4C192.6 321.7 189.7 324.0 188.7 324.7C187.8 325.4 186.4 325.9 185.6 325.7C184.7 325.6 183.1 325.0 182.4 323.6C181.7 322.2 179.8 316.5 180.2 315.1Z" fill="#5b9bd5" /><path d="M238.5 285.3C239.0 283.5 241.2 281.0 242.7 280.0C244.3 279.0 248.2 278.1 250.2 277.9C252.1 277.8 255.5 278.4 257.2 279.0C258.9 279.5 262.0 281.3 262.9 282.2C263.8 283.0 264.2 284.4 264.0 285.3C263.7 286.3 261.7 288.5 260.8 289.6C259.9 290.7 257.9 292.1 257.2 293.8C256.5 295.5 256.1 300.5 255.5 302.3C254.8 304.2 252.7 305.9 252.3 307.6C251.9 309.3 251.9 313.4 252.3 315.1C252.7 316.7 254.6 318.9 255.5 320.4C256.3 321.8 261.2 325.0 258.6 325.7C256.1 326.4 238.9 326.4 236.4 325.7C233.8 325.0 238.4 321.8 239.5 320.4C240.7 318.9 244.1 316.7 244.9 315.1C245.6 313.4 245.7 309.3 245.3 307.6C244.9 305.9 242.5 304.2 241.7 302.3C240.8 300.5 239.3 296.1 238.9 293.8C238.5 291.6 238.0 287.2 238.5 285.3Z" fill="#3fa84a" /><path d="M233.0 324.0L257.0 324.5L272.4 326.9L304.3 329.1L304.3 332.0L233.0 332.0Z" fill="#3fa84a" /><path d="M235.3 310.4C235.3 309.9 236.1 308.7 236.5 308.7C237.0 308.7 237.8 309.9 237.8 310.4C237.8 311.0 237.0 312.1 236.5 312.1C236.1 312.1 235.3 311.0 235.3 310.4Z" fill="#d5ebf8" /><path d="M194.1 287.5C194.6 286.5 201.3 286.9 203.6 286.4C205.9 286.0 209.5 285.3 211.0 284.3C212.6 283.3 214.2 279.3 215.3 279.0C216.4 278.7 218.7 280.8 219.5 282.2C220.4 283.6 221.6 287.2 221.9 289.6C222.1 292.0 221.8 297.4 221.5 300.2C221.1 303.1 219.6 308.6 219.5 310.9C219.5 313.1 220.5 315.2 221.0 317.2C221.5 319.2 222.7 324.0 223.2 325.7C223.6 327.5 229.4 329.8 224.4 330.4C219.4 331.0 190.7 330.7 185.6 330.4C180.4 330.1 185.1 328.3 185.6 327.8C186.0 327.4 187.2 327.2 188.7 326.8C190.3 326.4 195.0 325.7 197.2 324.7C199.5 323.7 204.0 320.9 205.7 319.3C207.4 317.8 209.4 315.1 210.0 313.0C210.6 310.9 210.6 305.4 210.0 303.4C209.4 301.4 207.2 299.4 205.7 298.1C204.3 296.8 200.9 295.3 199.4 293.9C197.8 292.4 193.5 288.5 194.1 287.5Z" fill="#fbd94b" /><path d="M246.1 287.5C246.7 285.4 248.4 282.2 249.3 282.2C250.2 282.2 250.9 285.2 251.4 287.5C251.9 289.8 252.2 293.3 252.0 296.0C251.9 298.6 251.2 302.4 250.3 303.4C249.5 304.5 247.9 303.8 247.2 302.4C246.4 300.9 245.8 297.4 245.7 294.9C245.5 292.4 245.5 289.6 246.1 287.5Z" fill="#fbd94b" /><path d="M226.6 330.4L229.1 326.8L239.7 325.7L246.1 324.0L252.5 326.1L257.1 327.0L269.3 329.5L269.3 331.2L226.6 331.2Z" fill="#fbd94b" /><path d="M210.6 293.9C210.6 292.1 212.1 289.3 212.7 287.9C213.4 286.6 214.7 283.7 215.5 283.7C216.3 283.6 217.8 286.1 218.5 287.5C219.2 288.8 220.8 292.0 220.8 293.9C220.9 295.7 219.4 299.5 218.9 301.3C218.4 303.1 217.0 306.0 216.8 307.7C216.6 309.4 217.1 312.3 217.6 314.0C218.1 315.7 219.9 318.2 220.6 320.4C221.3 322.6 225.3 329.1 222.7 330.4C220.1 331.7 203.4 331.1 201.1 330.4C198.7 329.7 204.3 326.5 205.3 325.3C206.4 324.1 208.0 322.4 208.9 321.0C209.9 319.7 211.8 316.9 212.5 315.1C213.2 313.3 214.2 309.5 214.2 307.7C214.3 305.8 213.2 303.1 212.7 301.3C212.3 299.5 210.6 295.6 210.6 293.9Z" fill="#f0702a" /><path d="M239.5 331.2C237.9 330.8 242.0 328.8 243.2 328.2C244.3 327.6 246.7 326.5 248.0 326.5C249.3 326.5 251.9 327.6 252.9 328.2C254.0 328.8 257.7 330.8 255.9 331.2C254.1 331.6 241.2 331.6 239.5 331.2Z" fill="#f0702a" /><path d="M244.0 331.6C243.4 331.2 247.1 328.4 248.2 328.4C249.4 328.4 253.1 331.2 252.5 331.6C251.9 332.0 244.6 332.0 244.0 331.6Z" fill="#d8231f" /><path d="M212.7 293.9C212.7 292.4 215.0 286.6 215.5 286.6C216.1 286.6 218.3 292.4 218.3 293.9C218.3 295.3 216.1 301.5 215.5 301.5C215.0 301.5 212.7 295.3 212.7 293.9Z" fill="#d8231f" /><path d="M214.2 294.3C214.2 293.2 214.9 291.3 215.3 291.3C215.6 291.3 216.4 293.2 216.4 294.3C216.4 295.3 215.6 297.7 215.3 297.7C214.9 297.7 214.2 295.3 214.2 294.3Z" fill="#8e1414" /><path d="M214.9 311.3C215.4 311.3 217.8 317.8 218.5 319.3C219.2 320.9 221.5 325.7 221.9 326.8C222.2 327.9 223.5 330.0 221.9 330.4C220.3 330.8 207.4 331.0 206.2 330.4C205.0 329.8 209.2 325.4 210.0 324.2C210.7 323.1 213.1 320.0 213.6 318.7C214.1 317.4 214.4 311.2 214.9 311.3Z" fill="#d8231f" /><path d="M209.6 330.4C208.6 329.9 211.3 327.7 212.1 327.0C212.9 326.3 214.6 325.2 215.5 325.3C216.4 325.4 218.4 327.4 218.9 328.1C219.4 328.7 220.8 330.1 219.5 330.4C218.3 330.7 210.6 330.8 209.6 330.4Z" fill="#8e1414" /></g></g><rect x="120.0" y="241.1" width="184.0" height="90.90" fill="none" stroke="#606060" stroke-width="1.2"/><path d="M120.0 309.27h2.6M304.0 309.27h-2.6M120.0 286.55h2.6M304.0 286.55h-2.6M120.0 263.82h2.6M304.0 263.82h-2.6M147.50 332.0v-2.6M147.50 241.1v2.6M202.10 332.0v-2.6M202.10 241.1v2.6M256.70 332.0v-2.6M256.70 241.1v2.6" stroke="#606060" stroke-width="0.9" fill="none"/><text x="116.60" y="335.20" text-anchor="end" class="t">0</text><text x="116.60" y="312.47" text-anchor="end" class="t">5</text><text x="116.60" y="289.75" text-anchor="end" class="t">10</text><text x="116.60" y="267.02" text-anchor="end" class="t">15</text><text x="116.60" y="244.30" text-anchor="end" class="t">20</text><text x="147.00" y="342.60" text-anchor="middle" class="t">26 Jan</text><text x="201.60" y="342.60" text-anchor="middle" class="t">27 Jan</text><text x="256.20" y="342.60" text-anchor="middle" class="t">28 Jan</text><text x="122.20" y="252.00" class="l">(e)</text><rect x="185.9" y="242.00" width="36.9" height="89.40" fill="none" stroke="#fb0407" stroke-width="2.4"/><rect x="234.9" y="242.00" width="21.6" height="89.40" fill="none" stroke="#fb0407" stroke-width="2.4"/>
<clipPath id="cpf"><rect x="357.6" y="241.1" width="184.8" height="90.9"/></clipPath><g clip-path="url(#cpf)"><rect x="357.6" y="241.1" width="184.8" height="90.9" fill="#e4e6fb"/><g filter="url(#b1)"><path d="M357.3 264.3C358.9 259.2 365.9 260.3 369.0 259.7C372.1 259.0 377.9 259.3 380.6 259.7C383.2 260.0 387.3 260.9 388.7 262.0C390.1 263.1 392.1 266.3 391.3 267.8C390.5 269.3 384.6 271.6 382.9 273.1C381.2 274.7 379.2 277.5 378.3 279.4C377.3 281.3 377.2 285.2 375.9 287.6C374.7 289.9 370.8 295.2 369.0 296.9C367.1 298.6 363.5 300.2 362.0 300.3C360.4 300.5 357.9 302.8 357.3 298.0C356.7 293.2 355.8 269.4 357.3 264.3Z" fill="#fbe6e3" /><path d="M357.3 310.8C358.1 309.2 361.1 309.3 362.0 310.8C362.8 312.4 363.2 318.5 362.4 320.1C361.7 321.7 358.2 322.1 357.3 320.6C356.5 319.0 356.6 312.4 357.3 310.8Z" fill="#fbe6e3" /><path d="M399.2 261.5C400.7 260.4 405.4 260.0 408.5 260.1C411.6 260.2 416.2 260.9 417.8 262.0C419.3 263.1 420.9 265.9 417.8 266.6C414.7 267.4 402.3 267.5 399.2 266.6C396.1 265.8 397.6 262.6 399.2 261.5Z" fill="#fbe6e3" /><path d="M421.5 271.3C422.3 264.2 427.5 261.7 429.0 260.8C430.4 259.9 434.8 261.4 435.9 262.0C437.1 262.6 439.2 265.9 440.6 266.6C442.0 267.3 448.0 269.1 449.9 269.0C451.7 268.8 458.1 259.2 459.2 265.5C460.2 271.7 464.1 325.1 460.3 331.7C456.6 338.4 425.4 337.8 421.5 331.7C417.6 325.7 420.8 278.4 421.5 271.3Z" fill="#fbe6e3" /><path d="M464.3 262.0C465.2 260.4 468.8 260.4 469.7 262.0C470.5 263.5 470.5 269.7 469.7 271.3C468.8 272.8 465.2 272.8 464.3 271.3C463.4 269.7 463.4 263.5 464.3 262.0Z" fill="#fbe6e3" /><path d="M473.9 258.3C475.3 257.8 494.1 257.8 495.6 258.3C497.0 258.8 497.0 265.6 495.6 266.2C494.1 266.7 475.3 266.7 473.9 266.2C472.4 265.6 472.4 258.8 473.9 258.3Z" fill="#fbe6e3" /><path d="M498.7 266.2C499.9 261.7 515.4 265.1 516.7 264.8C518.0 264.4 516.3 261.3 518.1 261.1C519.9 260.9 541.8 256.3 543.5 261.1C545.2 265.8 546.5 327.6 543.5 332.4C540.5 337.1 501.7 336.8 498.7 332.4C495.7 328.0 497.5 270.7 498.7 266.2Z" fill="#fbe6e3" /><path d="M495.6 240.8L498.7 240.8L498.7 332.4L495.6 332.4Z" fill="#e4e6fb" /><path d="M520.9 280.3C521.4 278.4 523.3 278.4 523.7 280.3C524.2 282.1 524.2 289.6 523.7 291.5C523.3 293.4 521.4 293.4 520.9 291.5C520.5 289.6 520.5 282.1 520.9 280.3Z" fill="#e4e6fb" /><path d="M518.1 304.2C518.8 302.9 521.6 302.9 522.3 304.2C523.0 305.5 523.0 310.5 522.3 311.8C521.6 313.1 518.8 313.1 518.1 311.8C517.4 310.5 517.4 305.5 518.1 304.2Z" fill="#e4e6fb" /><path d="M498.7 326.7C499.8 325.8 504.3 325.8 505.4 326.7C506.6 327.7 506.6 331.4 505.4 332.4C504.3 333.3 499.8 333.3 498.7 332.4C497.5 331.4 497.5 327.7 498.7 326.7Z" fill="#e4e6fb" /><path d="M512.5 325.3C514.1 324.2 520.7 324.2 522.3 325.3C524.0 326.5 524.0 331.2 522.3 332.4C520.7 333.5 514.1 333.5 512.5 332.4C510.8 331.2 510.8 326.5 512.5 325.3Z" fill="#e4e6fb" /><path d="M536.4 319.7C537.6 317.3 542.3 316.2 543.5 318.3C544.6 320.4 544.6 330.0 543.5 332.4C542.3 334.7 537.6 334.5 536.4 332.4C535.2 330.3 535.2 322.0 536.4 319.7Z" fill="#e4e6fb" /><path d="M389.9 280.6C390.7 278.7 392.3 274.8 393.4 273.6C394.5 272.4 396.9 271.0 398.0 271.3C399.1 271.6 400.6 274.5 401.5 275.9C402.4 277.3 403.4 281.1 405.0 281.7C406.6 282.4 411.3 280.4 413.1 280.6C415.0 280.7 417.7 282.0 419.0 282.9C420.2 283.8 422.0 280.9 422.4 287.6C422.9 294.2 424.8 326.9 422.4 332.9C420.1 339.0 407.5 334.3 405.0 332.9C402.5 331.5 404.6 323.5 403.8 322.4C403.1 321.4 400.6 323.4 399.2 324.8C397.8 326.2 394.5 331.8 393.4 332.9C392.3 334.0 391.5 334.9 391.0 332.9C390.6 330.9 389.9 321.4 389.9 317.8C389.9 314.2 391.2 309.0 391.0 306.2C390.9 303.4 389.2 299.3 388.7 296.9C388.3 294.4 387.4 289.7 387.6 287.6C387.7 285.4 389.1 282.4 389.9 280.6Z" fill="#bfc4f6" /><path d="M391.3 282.4C392.2 281.1 395.0 277.7 396.4 277.3C397.8 277.0 400.9 278.3 402.0 279.7C403.1 281.0 404.2 284.8 404.8 287.1C405.3 289.4 406.2 293.9 405.9 296.9C405.7 299.8 403.5 306.0 402.9 309.0C402.3 311.9 402.1 317.0 401.3 318.7C400.5 320.4 398.0 322.1 396.9 321.5C395.7 320.9 393.7 316.4 392.9 314.1C392.2 311.8 391.8 306.9 391.3 304.3C390.8 301.7 389.2 296.8 389.0 294.5C388.7 292.2 389.1 288.7 389.4 287.1C389.7 285.5 390.3 283.7 391.3 282.4Z" fill="#939cee" /><path d="M409.7 287.6C410.7 286.8 412.9 284.2 414.3 284.1C415.7 283.9 419.0 285.6 420.1 286.4C421.2 287.2 422.1 287.7 422.4 289.9C422.8 292.1 423.2 300.8 422.4 302.7C421.7 304.5 418.0 304.1 416.6 303.8C415.2 303.5 413.2 301.6 412.0 300.3C410.7 299.1 408.1 295.9 407.3 294.5C406.6 293.1 405.9 290.8 406.2 289.9C406.5 289.0 408.6 288.3 409.7 287.6Z" fill="#939cee" /><path d="M410.8 313.1C411.7 311.3 415.1 309.0 416.6 308.5C418.2 308.0 421.7 306.4 422.4 309.7C423.2 312.9 423.7 329.8 422.4 332.9C421.2 336.0 414.8 334.3 413.1 332.9C411.4 331.5 410.0 325.1 409.7 322.4C409.3 319.8 409.9 315.0 410.8 313.1Z" fill="#939cee" /><path d="M390.3 289.4C390.8 287.3 393.3 286.2 394.5 286.6C395.8 287.0 397.3 289.5 397.8 291.7C398.3 294.0 398.3 298.9 397.3 300.1C396.3 301.4 392.9 301.0 391.7 299.2C390.6 297.4 389.9 291.5 390.3 289.4Z" fill="#6572e6" /><path d="M414.3 292.2C414.7 290.5 417.6 289.1 419.0 288.7C420.3 288.3 421.9 287.9 422.4 289.9C423.0 291.8 423.4 298.8 422.4 300.3C421.5 301.9 418.0 300.5 416.6 299.2C415.3 297.8 413.9 294.0 414.3 292.2Z" fill="#6572e6" /><path d="M417.8 292.9C418.5 291.9 421.7 290.8 422.4 291.7C423.2 292.7 423.1 297.5 422.4 298.5C421.7 299.5 419.0 298.7 418.3 297.8C417.5 296.9 417.1 293.9 417.8 292.9Z" fill="#3f4cde" /><path d="M414.3 314.3C414.8 313.1 417.6 312.2 419.0 312.0C420.3 311.8 421.9 311.7 422.4 313.1C423.0 314.6 423.5 319.6 422.4 320.6C421.4 321.6 417.3 320.0 415.9 319.0C414.6 317.9 413.8 315.5 414.3 314.3Z" fill="#6572e6" /><path d="M421.5 282.9C422.0 279.6 423.5 283.7 424.3 285.2C425.1 286.8 425.7 289.9 426.2 292.2C426.6 294.5 427.4 297.2 427.1 299.2C426.8 301.1 425.2 302.9 424.3 303.8C423.4 304.8 422.0 308.5 421.5 305.0C421.0 301.5 421.0 286.2 421.5 282.9Z" fill="#bfc4f6" /><path d="M421.5 289.9C421.9 288.7 423.4 291.0 423.8 292.2C424.3 293.4 424.7 295.7 424.3 296.9C423.9 298.0 422.0 300.3 421.5 299.2C421.0 298.0 421.1 291.0 421.5 289.9Z" fill="#6572e6" /><path d="M424.3 278.3C424.8 277.3 426.4 275.4 427.8 274.8C429.2 274.1 433.1 273.1 434.8 273.6C436.5 274.1 439.2 276.7 440.6 278.3C442.0 279.8 444.0 284.0 445.2 285.2C446.5 286.5 448.5 287.6 449.9 287.6C451.3 287.6 454.5 285.4 455.7 285.2C456.9 285.1 458.7 281.4 459.2 286.4C459.7 291.4 460.4 317.3 459.2 322.4C457.9 327.6 452.1 324.8 449.9 324.8C447.7 324.8 444.5 322.4 442.9 322.4C441.4 322.4 439.4 324.3 438.3 324.8C437.1 325.3 435.3 326.2 434.5 326.2C433.7 326.2 432.5 326.8 432.2 324.8C432.0 322.7 432.7 313.9 432.7 310.8C432.6 307.7 432.2 303.7 431.7 301.5C431.2 299.3 429.8 296.4 429.0 294.5C428.1 292.7 426.1 289.3 425.5 287.6C424.8 285.9 424.0 283.0 423.8 281.7C423.7 280.5 423.8 279.2 424.3 278.3Z" fill="#f6a8a2" /><path d="M427.8 282.9C428.2 281.7 430.2 278.7 431.3 278.3C432.4 277.8 434.7 278.5 435.9 279.4C437.2 280.3 439.3 283.5 440.6 285.2C441.8 286.9 444.3 290.0 445.2 292.2C446.2 294.4 447.6 299.0 447.6 301.5C447.6 304.0 446.5 309.0 445.2 310.8C444.0 312.7 439.8 315.2 438.3 315.5C436.7 315.8 434.4 314.4 433.6 313.1C432.8 311.9 432.4 308.0 432.4 306.2C432.4 304.3 433.8 301.0 433.6 299.2C433.4 297.3 432.0 293.8 431.3 292.2C430.6 290.7 429.0 288.8 428.5 287.6C428.0 286.3 427.4 284.1 427.8 282.9Z" fill="#f17470" /><path d="M435.9 293.4C436.2 291.4 438.3 289.3 439.4 289.9C440.5 290.5 442.2 294.5 442.4 296.9C442.7 299.2 441.8 303.1 441.0 303.8C440.3 304.6 438.6 303.3 437.8 301.5C436.9 299.8 435.7 295.3 435.9 293.4Z" fill="#ec4040" /><path d="M437.1 325.2C437.1 324.7 438.6 323.6 439.4 323.6C440.2 323.6 441.7 324.7 441.7 325.2C441.7 325.8 440.2 327.1 439.4 327.1C438.6 327.1 437.1 325.8 437.1 325.2Z" fill="#fff" /><path d="M447.6 327.1C447.6 326.3 449.4 324.8 450.3 324.8C451.3 324.8 453.4 326.3 453.4 327.1C453.4 327.9 451.3 329.4 450.3 329.4C449.4 329.4 447.6 327.9 447.6 327.1Z" fill="#fff" /><path d="M465.0 287.6C465.6 284.8 468.6 281.8 469.7 280.6C470.7 279.3 472.3 278.6 473.1 278.3C474.0 277.9 475.6 271.0 475.9 278.3C476.3 285.5 477.9 325.6 475.9 332.9C474.0 340.2 463.3 334.9 461.5 332.9C459.7 330.9 462.2 322.0 462.7 317.8C463.1 313.6 464.7 305.5 465.0 301.5C465.3 297.5 464.4 290.3 465.0 287.6Z" fill="#bfc4f6" /><path d="M467.3 296.9C467.9 294.1 470.8 291.0 472.0 289.9C473.1 288.8 475.4 284.1 475.9 288.7C476.5 293.4 476.8 320.3 475.9 324.8C475.1 329.3 470.8 324.3 469.7 322.4C468.5 320.6 467.6 314.2 467.3 310.8C467.0 307.4 466.7 299.7 467.3 296.9Z" fill="#939cee" /><path d="M470.3 301.5C470.7 299.8 472.3 299.4 473.1 299.2C474.0 299.0 475.1 298.7 475.5 300.3C475.9 302.0 476.2 307.4 475.5 309.0C474.7 310.5 471.7 310.9 470.8 309.7C470.0 308.4 470.0 303.3 470.3 301.5Z" fill="#6572e6" /><path d="M475.9 329.5C474.4 326.7 476.9 313.9 477.3 308.4C477.6 303.0 478.5 293.2 478.7 288.7C478.9 284.2 478.3 277.4 478.7 274.6C479.1 271.8 480.2 268.7 481.5 267.6C482.8 266.5 486.8 265.8 488.5 266.2C490.2 266.5 493.2 268.5 494.2 270.4C495.1 272.3 495.6 275.2 495.9 280.3C496.1 285.3 496.3 302.8 495.9 308.4C495.4 314.1 493.7 319.7 492.8 322.5C491.8 325.3 490.8 328.6 488.5 329.5C486.3 330.5 477.4 332.4 475.9 329.5Z" fill="#f6a8a2" /><path d="M473.9 288.7C474.2 284.8 476.9 287.3 477.3 291.5C477.6 295.7 477.6 327.0 477.3 331.0C476.9 334.9 474.2 335.2 473.9 331.0C473.5 326.7 473.5 292.6 473.9 288.7Z" fill="#939cee" /><path d="M480.6 274.6C481.2 271.3 483.8 270.0 485.2 269.5C486.5 269.1 489.6 269.8 490.8 271.2C492.0 272.7 493.6 276.4 494.2 280.3C494.7 284.1 495.0 295.5 494.7 300.0C494.4 304.5 492.9 310.9 491.9 314.1C490.9 317.2 488.9 322.1 487.1 323.9C485.4 325.7 479.8 329.3 478.7 327.6C477.6 325.9 478.7 315.7 479.0 311.2C479.2 306.8 480.4 299.2 480.6 294.3C480.9 289.5 480.0 277.9 480.6 274.6Z" fill="#f17470" /><path d="M482.9 277.4C483.5 274.6 486.0 273.2 487.1 273.2C488.3 273.2 490.5 275.4 491.4 277.4C492.2 279.5 493.4 285.3 493.6 288.7C493.8 292.1 493.4 299.8 492.8 302.8C492.1 305.8 489.8 308.6 488.5 311.2C487.2 313.9 484.1 320.7 482.9 322.5C481.7 324.3 479.5 326.3 479.2 324.8C478.9 323.3 480.2 315.3 480.6 311.2C481.1 307.2 482.0 298.8 482.3 294.3C482.6 289.8 482.3 280.3 482.9 277.4Z" fill="#ec4040" /><path d="M485.2 280.3C485.7 278.0 487.7 276.7 488.5 277.4C489.4 278.2 491.1 283.1 491.4 285.9C491.7 288.7 491.4 296.1 490.8 298.6C490.2 301.0 488.0 304.8 487.1 304.2C486.3 303.6 484.9 297.5 484.6 294.3C484.3 291.1 484.6 282.5 485.2 280.3Z" fill="#ee1c1c" /><path d="M498.4 274.6C499.0 272.9 501.3 271.4 502.6 271.2C503.9 271.1 506.9 272.0 508.3 273.2C509.6 274.4 511.5 277.8 512.5 280.3C513.4 282.7 515.1 288.1 515.3 291.5C515.5 294.9 514.5 301.8 513.9 305.6C513.3 309.4 511.8 317.4 511.1 319.7C510.3 321.9 508.7 323.6 508.3 322.5C507.8 321.4 507.7 314.2 507.7 311.2C507.7 308.2 508.6 302.6 508.3 300.0C508.0 297.3 506.4 293.4 505.4 291.5C504.5 289.6 502.2 286.8 501.2 285.9C500.3 284.9 498.8 286.0 498.4 284.5C498.0 283.0 497.8 276.4 498.4 274.6Z" fill="#f6a8a2" /><path d="M499.8 280.3C500.5 279.5 503.8 279.5 505.4 280.3C507.1 281.0 508.7 282.8 509.7 284.5C510.6 286.1 511.5 289.4 511.1 290.1C510.6 290.8 508.5 289.6 506.8 288.7C505.2 287.8 502.4 285.9 501.2 284.5C500.0 283.1 499.1 281.0 499.8 280.3Z" fill="#f29a96" /><path d="M528.5 283.1C529.0 281.9 531.1 281.2 532.2 281.7C533.3 282.1 534.8 284.5 535.0 285.9C535.2 287.3 534.5 289.6 533.6 290.1C532.7 290.6 530.2 289.9 529.4 288.7C528.5 287.5 528.1 284.2 528.5 283.1Z" fill="#f6a8a2" /></g></g><rect x="357.6" y="241.1" width="184.8" height="90.90" fill="none" stroke="#606060" stroke-width="1.2"/><path d="M357.6 309.27h2.6M542.4000000000001 309.27h-2.6M357.6 286.55h2.6M542.4000000000001 286.55h-2.6M357.6 263.82h2.6M542.4000000000001 263.82h-2.6M385.10 332.0v-2.6M385.10 241.1v2.6M439.70 332.0v-2.6M439.70 241.1v2.6M494.30 332.0v-2.6M494.30 241.1v2.6" stroke="#606060" stroke-width="0.9" fill="none"/><text x="354.20" y="335.20" text-anchor="end" class="t">0</text><text x="354.20" y="312.47" text-anchor="end" class="t">5</text><text x="354.20" y="289.75" text-anchor="end" class="t">10</text><text x="354.20" y="267.02" text-anchor="end" class="t">15</text><text x="354.20" y="244.30" text-anchor="end" class="t">20</text><text x="384.60" y="342.60" text-anchor="middle" class="t">26 Jan</text><text x="439.20" y="342.60" text-anchor="middle" class="t">27 Jan</text><text x="493.80" y="342.60" text-anchor="middle" class="t">28 Jan</text><text x="359.80" y="252.00" class="l">(f)</text><rect x="421.5" y="242.00" width="36.6" height="89.40" fill="none" stroke="#fb0407" stroke-width="2.4"/><rect x="474.0" y="242.00" width="21.7" height="89.40" fill="none" stroke="#fb0407" stroke-width="2.4"/>
<linearGradient id="cba" x1="0" y1="0" x2="0" y2="1"><stop offset="0.0000" stop-color="#a01010"/><stop offset="0.0800" stop-color="#d7191c"/><stop offset="0.2700" stop-color="#e03a1c"/><stop offset="0.3500" stop-color="#f08a28"/><stop offset="0.4300" stop-color="#f2dc3c"/><stop offset="0.5600" stop-color="#e4e23c"/><stop offset="0.6600" stop-color="#9ccc40"/><stop offset="0.7600" stop-color="#3fa84a"/><stop offset="0.8400" stop-color="#2f9a8c"/><stop offset="0.8900" stop-color="#4aa8d8"/><stop offset="0.9400" stop-color="#a6d6f0"/><stop offset="0.9800" stop-color="#ffffff"/><stop offset="1.0000" stop-color="#fff"/></linearGradient><rect x="311.0" y="18.7" width="2.9" height="84.30" fill="url(#cba)"/><path d="M312.45 14.4L313.9 18.7H311.0Z" fill="#2a0000"/><path d="M312.45 107.3L313.9 103.0H311.0Z" fill="#222"/><path d="M312.45 14.4L313.9 18.7V103.0L312.45 107.3L311.0 103.0V18.7Z" fill="none" stroke="#333" stroke-width="0.6" stroke-linejoin="miter"/><text x="317.3" y="29.50" class="c">5e<tspan dx="0.8" dy="-2.9" font-size="5" style="stroke:none;fill:#555">7</tspan></text><text x="317.3" y="58.80" class="c">1e<tspan dx="0.8" dy="-2.9" font-size="5" style="stroke:none;fill:#555">7</tspan></text><text x="317.3" y="91.80" class="c">5e<tspan dx="0.8" dy="-2.9" font-size="5" style="stroke:none;fill:#555">6</tspan></text>
<linearGradient id="cbc" x1="0" y1="0" x2="0" y2="1"><stop offset="0.0000" stop-color="#8c0f0f"/><stop offset="0.1230" stop-color="#8c0f0f"/><stop offset="0.1230" stop-color="#d7191c"/><stop offset="0.2440" stop-color="#d7191c"/><stop offset="0.2440" stop-color="#f08a2c"/><stop offset="0.3670" stop-color="#f08a2c"/><stop offset="0.3670" stop-color="#f2e63c"/><stop offset="0.4890" stop-color="#f2e63c"/><stop offset="0.4890" stop-color="#3a9e48"/><stop offset="0.6100" stop-color="#3a9e48"/><stop offset="0.6100" stop-color="#3b86c4"/><stop offset="0.7330" stop-color="#3b86c4"/><stop offset="0.7330" stop-color="#8fcbee"/><stop offset="0.8540" stop-color="#8fcbee"/><stop offset="0.8540" stop-color="#c9e6f7"/><stop offset="0.9760" stop-color="#c9e6f7"/><stop offset="0.9760" stop-color="#f4fafd"/><stop offset="1.0000" stop-color="#f4fafd"/></linearGradient><rect x="310.7" y="133.3" width="2.9" height="84.70" fill="url(#cbc)"/><path d="M312.15 129L313.59999999999997 133.3H310.7Z" fill="#2a0000"/><path d="M312.15 222.3L313.59999999999997 218.0H310.7Z" fill="#222"/><path d="M312.15 129L313.59999999999997 133.3V218.0L312.15 222.3L310.7 218.0V133.3Z" fill="none" stroke="#333" stroke-width="0.6" stroke-linejoin="miter"/><text x="317.2" y="136.20" class="c">8e<tspan dx="0.8" dy="-2.9" font-size="5" style="stroke:none;fill:#555">&#8722;5</tspan></text><text x="317.2" y="156.60" class="c">6e<tspan dx="0.8" dy="-2.9" font-size="5" style="stroke:none;fill:#555">&#8722;5</tspan></text><text x="317.2" y="177.80" class="c">4e<tspan dx="0.8" dy="-2.9" font-size="5" style="stroke:none;fill:#555">&#8722;5</tspan></text><text x="317.2" y="198.60" class="c">2e<tspan dx="0.8" dy="-2.9" font-size="5" style="stroke:none;fill:#555">&#8722;5</tspan></text><text x="317.2" y="218.80" class="c">0</text>
<linearGradient id="cbe" x1="0" y1="0" x2="0" y2="1"><stop offset="0.0000" stop-color="#d8231f"/><stop offset="0.1620" stop-color="#d8231f"/><stop offset="0.1620" stop-color="#f07a2a"/><stop offset="0.3270" stop-color="#f07a2a"/><stop offset="0.3270" stop-color="#fbd94b"/><stop offset="0.4920" stop-color="#fbd94b"/><stop offset="0.4920" stop-color="#3fa84a"/><stop offset="0.6580" stop-color="#3fa84a"/><stop offset="0.6580" stop-color="#5b9bd5"/><stop offset="0.8230" stop-color="#5b9bd5"/><stop offset="0.8230" stop-color="#cfe8f7"/><stop offset="1.0000" stop-color="#cfe8f7"/></linearGradient><rect x="310.4" y="244.60000000000002" width="2.9" height="84.40" fill="url(#cbe)"/><path d="M311.84999999999997 240.3L313.29999999999995 244.60000000000002H310.4Z" fill="#2a0000"/><path d="M311.84999999999997 333.3L313.29999999999995 329.0H310.4Z" fill="#222"/><path d="M311.84999999999997 240.3L313.29999999999995 244.60000000000002V329.0L311.84999999999997 333.3L310.4 329.0V244.60000000000002Z" fill="none" stroke="#333" stroke-width="0.6" stroke-linejoin="miter"/><text x="317.1" y="246.70" class="c">-17.5</text><text x="317.1" y="260.73" class="c">-20.0</text><text x="317.1" y="274.76" class="c">-22.5</text><text x="317.1" y="288.79" class="c">-25.0</text><text x="317.1" y="302.82" class="c">-27.5</text><text x="317.1" y="316.85" class="c">-30.0</text><text x="317.1" y="330.88" class="c">-32.5</text>
<linearGradient id="cbb" x1="0" y1="0" x2="0" y2="1"><stop offset="0.0000" stop-color="#6b0a10"/><stop offset="0.2200" stop-color="#6b0a10"/><stop offset="0.2200" stop-color="#e0261e"/><stop offset="0.4100" stop-color="#e0261e"/><stop offset="0.4100" stop-color="#f4906c"/><stop offset="0.7900" stop-color="#f4906c"/><stop offset="0.7900" stop-color="#fbe3d8"/><stop offset="1.0000" stop-color="#fbe3d8"/></linearGradient><rect x="548.6" y="18.7" width="2.9" height="84.30" fill="url(#cbb)"/><path d="M550.0500000000001 14.4L551.5 18.7H548.6Z" fill="#3a0008"/><path d="M550.0500000000001 107.3L551.5 103.0H548.6Z" fill="#111"/><path d="M550.0500000000001 14.4L551.5 18.7V103.0L550.0500000000001 107.3L548.6 103.0V18.7Z" fill="none" stroke="#333" stroke-width="0.6" stroke-linejoin="miter"/><text x="556" y="21.20" class="c">6e<tspan dx="0.8" dy="-2.9" font-size="5" style="stroke:none;fill:#555">6</tspan></text><text x="556" y="55.10" class="c">1e<tspan dx="0.8" dy="-2.9" font-size="5" style="stroke:none;fill:#555">6</tspan></text><text x="556" y="103.80" class="c">1e<tspan dx="0.8" dy="-2.9" font-size="5" style="stroke:none;fill:#555">5</tspan></text>
<linearGradient id="cbd" x1="0" y1="0" x2="0" y2="1"><stop offset="0.0000" stop-color="#d80c0c"/><stop offset="0.0600" stop-color="#ee1c1c"/><stop offset="0.5000" stop-color="#ffffff"/><stop offset="0.9400" stop-color="#1c1cee"/><stop offset="1.0000" stop-color="#0c0cd8"/></linearGradient><rect x="548.6" y="133.3" width="2.9" height="84.70" fill="url(#cbd)"/><path d="M550.0500000000001 129L551.5 133.3H548.6Z" fill="#6a0000"/><path d="M550.0500000000001 222.3L551.5 218.0H548.6Z" fill="#00006a"/><path d="M550.0500000000001 129L551.5 133.3V218.0L550.0500000000001 222.3L548.6 218.0V133.3Z" fill="none" stroke="#333" stroke-width="0.6" stroke-linejoin="miter"/><text x="555.4" y="135.60" class="c">1e<tspan dx="0.8" dy="-2.9" font-size="5" style="stroke:none;fill:#555">&#8722;4</tspan></text><text x="555.4" y="178.10" class="c">0</text><text x="555.4" y="219.40" class="c">-1e<tspan dx="0.8" dy="-2.9" font-size="5" style="stroke:none;fill:#555">&#8722;4</tspan></text>
<linearGradient id="cbf" x1="0" y1="0" x2="0" y2="1"><stop offset="0.0000" stop-color="#d80c0c"/><stop offset="0.0600" stop-color="#ee1c1c"/><stop offset="0.5000" stop-color="#ffffff"/><stop offset="0.9400" stop-color="#1c1cee"/><stop offset="1.0000" stop-color="#0c0cd8"/></linearGradient><rect x="548.6" y="244.60000000000002" width="2.9" height="84.40" fill="url(#cbf)"/><path d="M550.0500000000001 240.3L551.5 244.60000000000002H548.6Z" fill="#6a0000"/><path d="M550.0500000000001 333.3L551.5 329.0H548.6Z" fill="#00006a"/><path d="M550.0500000000001 240.3L551.5 244.60000000000002V329.0L550.0500000000001 333.3L548.6 329.0V244.60000000000002Z" fill="none" stroke="#333" stroke-width="0.6" stroke-linejoin="miter"/><text x="555.2" y="246.70" class="c">6</text><text x="555.2" y="267.75" class="c">3</text><text x="555.2" y="288.80" class="c">0</text><text x="555.2" y="309.85" class="c">-3</text><text x="555.2" y="330.90" class="c">-6</text>
</svg></body></html>
